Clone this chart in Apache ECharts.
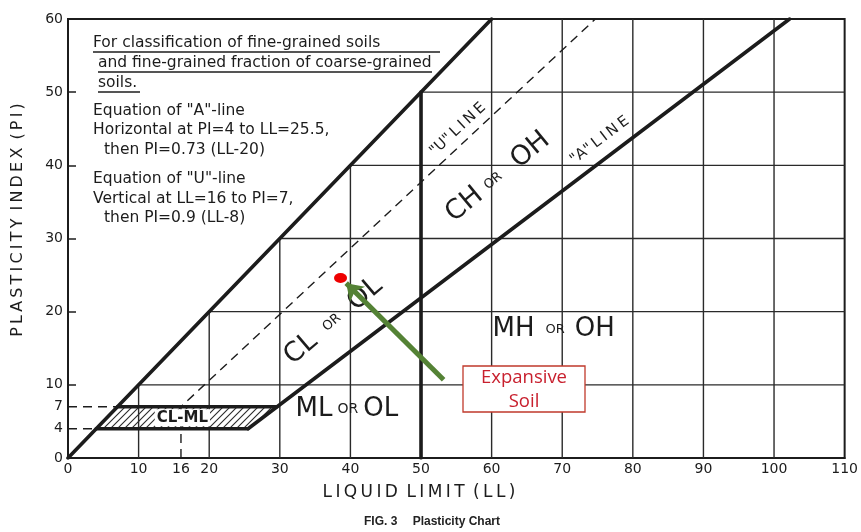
<!DOCTYPE html>
<html>
<head>
<meta charset="utf-8">
<script src="https://cdn.jsdelivr.net/npm/echarts@6/dist/echarts.min.js"></script>
<style>
  html, body { margin: 0; padding: 0; background: #fff; }
  #chart { width: 861px; height: 532px; }
</style>
</head>
<body>
<div id="chart"></div>
<script>
// Axis tick values
const llTicks = [0, 10, 16, 20, 30, 40, 50, 60, 70, 80, 90, 100, 110];
const piTicks = [0, 4, 7, 10, 20, 30, 40, 50, 60];
const piTickMarks = [10, 20, 30, 40, 50, 60];

// Grid lines, drawn only below the PI = LL limit
const gridLL = [10, 20, 30, 40, 60, 70, 80, 90, 100];
const gridPI = [10, 20, 30, 40, 50];

// Boundary lines as (LL, PI) points
const limitLine = [[0, 0], [60, 60]];
const aLine = [[25.5, 4], [102.2, 60]];
const uLine = [[16, 0], [16, 7], [74.7, 60]];
const llFifty = [[50, 0], [50, 50]];
const clmlTop = [[7, 7], [29.6, 7]];
const clmlBottom = [[4, 4], [25.5, 4]];
const clmlZone = [[4, 4], [25.5, 4], [29.6, 7], [7, 7]];
const pi4Guide = [[0, 4], [4, 4]];
const pi7Guide = [[0, 7], [7, 7]];

// Tested soil sample and its pointer
const soilPoint = [38.6, 24.6];
const arrowFrom = [53.2, 10.7];
const arrowTo = [39.4, 23.9];

// Zone names
const zoneNames = ['CL OR OL', 'CH OR OH', 'MH OR OH', 'ML OR OL', 'CL-ML', '"U" LINE', '"A" LINE'];

const noteLines = [
  'For classification of fine-grained soils',
  'and fine-grained fraction of coarse-grained',
  'soils.',
  'Equation of "A"-line',
  'Horizontal at PI=4 to LL=25.5,',
  'then PI=0.73 (LL-20)',
  'Equation of "U"-line',
  'Vertical at LL=16 to PI=7,',
  'then PI=0.9 (LL-8)'
];

const INK = '#1c1c1c';
const FONT = 'DejaVu Sans';

const gridSegments = gridLL.map(v => [v, 0, v, Math.min(v, 60)])
  .concat(gridPI.map(p => [p, p, 110, p]));

// diagonal hatch pattern for the CL-ML band
const hatch = document.createElement('canvas');
hatch.width = 7; hatch.height = 7;
(function () {
  const g = hatch.getContext('2d');
  g.strokeStyle = '#2a2a2a';
  g.lineWidth = 1.1;
  g.beginPath();
  g.moveTo(0, 7); g.lineTo(7, 0);
  g.moveTo(-1, 1); g.lineTo(1, -1);
  g.moveTo(6, 8); g.lineTo(8, 6);
  g.stroke();
})();

function spaced(s) {
  return s.split(' ').map(w => w.split('').join('\u2009')).join('\u2002');
}

const thin = '\u2009';

const labelLayout = [
  { at: [37.6, 18.7], rotate: 40.5, text: '{b|CL}{s|OR}{b|OL}', big: 27, small: 13, pad: [0, 16, 0, 14] },
  { at: [60.9, 38.4], rotate: 39.5, text: '{b|CH}{s|OR}{b|OH}', big: 27, small: 13, pad: [0, 18, 0, 8] },
  { at: [68.8, 17.6], rotate: 0, text: '{b|MH}{s|OR}{b|OH}', big: 26, small: 13, pad: [0, 10, 0, 11] },
  { at: [39.5, 6.6], rotate: 0, text: '{b|ML}{s|OR}{b|OL}', big: 26, small: 14, pad: [0, 5, 0, 5] },
  { at: [16.2, 5.5], rotate: 0, text: '{m|CL-ML}' },
  { at: [55.2, 44.9], rotate: 43, text: '{t|"U"' + thin + 'L' + thin + 'I' + thin + 'N' + thin + 'E}' },
  { at: [75.3, 43.4], rotate: 37, text: '{t|"A"' + thin + 'L' + thin + 'I' + thin + 'N' + thin + 'E}' }
];

const zoneData = zoneNames.map((name, i) => {
  const L = labelLayout[i];
  return {
    name: name,
    value: L.at,
    label: {
      show: true,
      position: 'inside',
      rotate: L.rotate,
      formatter: L.text,
      color: INK,
      rich: {
        b: { fontSize: L.big || 26, fontFamily: FONT, color: INK, verticalAlign: 'middle' },
        s: { fontSize: L.small || 13, fontFamily: FONT, color: INK, verticalAlign: 'middle', padding: L.pad || 0 },
        m: { fontSize: 15, fontFamily: FONT, color: INK, fontWeight: 'bold', backgroundColor: '#fff', padding: [1, 2] },
        t: { fontSize: 15, fontFamily: FONT, color: INK }
      }
    }
  };
});

const noteX = [93, 98, 98, 93, 93, 104, 93, 93, 104];
const noteY = [43, 63, 83, 111, 130, 150, 179, 199, 218];
const rules = [[93, 52, 440], [98, 72, 432], [98, 92, 140]];

const graphics = noteLines.map((t, i) => ({
  type: 'text', x: noteX[i], y: noteY[i], z: 10,
  style: { text: t, fill: INK, font: '15.5px "' + FONT + '"', textVerticalAlign: 'middle' }
})).concat(rules.map(r => ({
  type: 'line', z: 10,
  shape: { x1: r[0], y1: r[1], x2: r[2], y2: r[1] },
  style: { stroke: INK, lineWidth: 1.3 }
}))).concat([
  {
    type: 'text', x: 18, y: 220, rotation: Math.PI / 2, z: 10,
    style: { text: spaced('PLASTICITY INDEX (PI)'), fill: INK, font: '16px "' + FONT + '"', textAlign: 'center', textVerticalAlign: 'middle' }
  },
  {
    type: 'text', x: 419, y: 493, z: 10,
    style: { text: spaced('LIQUID LIMIT (LL)'), fill: INK, font: '17px "' + FONT + '"', textAlign: 'center', textVerticalAlign: 'middle' }
  },
  {
    type: 'text', x: 432, y: 522, z: 10,
    style: { text: 'FIG. 3\u2003 Plasticity Chart', fill: '#222', font: 'bold 12px "Liberation Sans"', textAlign: 'center', textVerticalAlign: 'middle' }
  },
  {
    type: 'rect', z: 20,
    shape: { x: 463, y: 366, width: 122, height: 46 },
    style: { fill: '#fff', stroke: '#c0392b', lineWidth: 1.3 }
  },
  {
    type: 'text', x: 524, y: 378, z: 21,
    style: { text: 'Expansive', fill: '#c8202e', font: '18.5px "Open Sans"', textAlign: 'center', textVerticalAlign: 'middle' }
  },
  {
    type: 'text', x: 524, y: 402, z: 21,
    style: { text: 'Soil', fill: '#c8202e', font: '18.5px "Open Sans"', textAlign: 'center', textVerticalAlign: 'middle' }
  }
]);

function thickLine(data) {
  return {
    type: 'line', data: data, symbol: 'none', z: 4, silent: true,
    lineStyle: { color: INK, width: 3.6, cap: 'round' }
  };
}
function dashLine(data) {
  return {
    type: 'line', data: data, symbol: 'none', z: 3, silent: true,
    lineStyle: { color: INK, width: 1.4, type: [9, 6] }
  };
}

const chart = echarts.init(document.getElementById('chart'), null, { renderer: 'canvas' });
chart.setOption({
  animation: false,
  backgroundColor: '#fff',
  grid: { left: 68, right: 14, top: 19, bottom: 74, show: true, borderColor: INK, borderWidth: 2 },
  xAxis: {
    type: 'value', min: 0, max: 110, interval: 10,
    axisLine: { show: true, lineStyle: { color: INK, width: 2 } },
    axisTick: { show: false },
    splitLine: { show: false },
    axisLabel: { customValues: llTicks, color: INK, fontSize: 14, fontFamily: FONT, margin: 4 }
  },
  yAxis: {
    type: 'value', min: 0, max: 60, interval: 10,
    axisLine: { show: true, lineStyle: { color: INK, width: 2 } },
    axisTick: { show: true, inside: true, length: 8, customValues: piTickMarks, lineStyle: { color: INK, width: 1.5 } },
    splitLine: { show: false },
    axisLabel: { customValues: piTicks, color: INK, fontSize: 14, fontFamily: FONT, margin: 5 }
  },
  graphic: graphics,
  series: [
    {
      type: 'custom', z: 1, silent: true,
      data: gridSegments,
      encode: { x: [0, 2], y: [1, 3] },
      renderItem: function (params, api) {
        const p1 = api.coord([api.value(0), api.value(1)]);
        const p2 = api.coord([api.value(2), api.value(3)]);
        return {
          type: 'line',
          shape: { x1: p1[0], y1: p1[1], x2: p2[0], y2: p2[1] },
          style: { stroke: '#2a2a2a', lineWidth: 1.4 }
        };
      }
    },
    {
      type: 'custom', z: 2, silent: true,
      data: [clmlZone[0]],
      renderItem: function (params, api) {
        const pts = clmlZone.map(p => api.coord(p));
        return {
          type: 'polygon',
          shape: { points: pts },
          style: { fill: { image: hatch, repeat: 'repeat' }, stroke: 'none' }
        };
      }
    },
    thickLine(limitLine),
    thickLine(aLine),
    thickLine(llFifty),
    thickLine(clmlTop),
    thickLine(clmlBottom),
    dashLine(uLine),
    dashLine(pi4Guide),
    dashLine(pi7Guide),
    {
      type: 'scatter', z: 6, silent: true,
      symbolSize: 0,
      itemStyle: { opacity: 1 },
      data: zoneData
    },
    {
      type: 'lines', coordinateSystem: 'cartesian2d', z: 8, silent: true,
      symbol: ['none', 'arrow'], symbolSize: 16,
      lineStyle: { color: '#548235', width: 5, opacity: 1, curveness: 0 },
      data: [{ coords: [arrowFrom, arrowTo] }]
    },
    {
      type: 'scatter', z: 9, silent: true,
      symbol: 'circle', symbolSize: [13, 10],
      itemStyle: { color: '#ee0000', opacity: 1 },
      data: [soilPoint]
    }
  ]
});
</script>
</body>
</html>
